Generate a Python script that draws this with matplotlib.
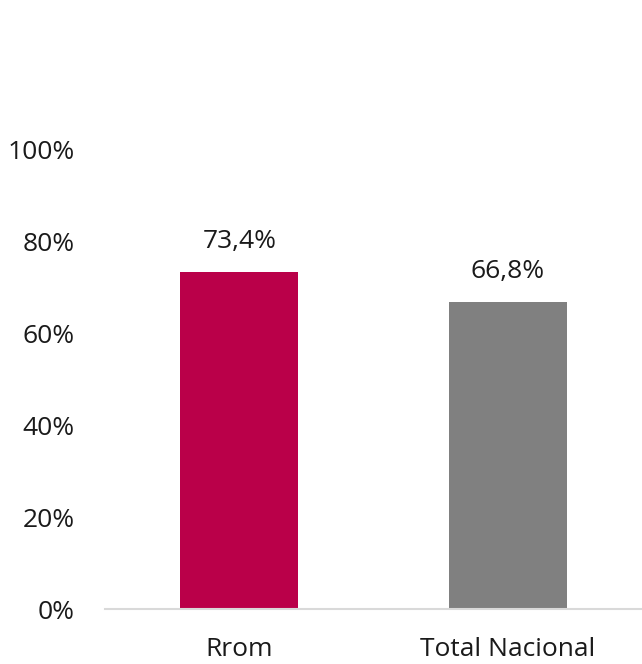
import matplotlib
matplotlib.use("Agg")
import matplotlib.pyplot as plt
from matplotlib.ticker import FuncFormatter

# --- Data ---
categories = ["Rrom", "Total Nacional"]
values = [0.734, 0.668]
value_labels = ["73,4%", "66,8%"]
bar_colors = ["#BA0049", "#808080"]

plt.rcParams['font.family'] = ['Open Sans', 'DejaVu Sans']

fig = plt.figure(figsize=(6.42, 6.64), dpi=100)
ax = fig.add_axes([0.1636, 0.0828, 0.8364, 0.6913])

x = range(len(categories))
bars = ax.bar(x, values, width=0.44, color=bar_colors)

# data labels above bars
for rect, lab in zip(bars, value_labels):
    ax.annotate(lab, (rect.get_x() + rect.get_width() / 2, rect.get_height()),
                xytext=(0, 13), textcoords="offset points",
                ha="center", va="bottom", fontsize=19, color="#1a1a1a")

ax.set_xlim(-0.5, 1.5)
ax.set_ylim(0, 1.0)
ax.set_yticks([0, 0.2, 0.4, 0.6, 0.8, 1.0])
ax.yaxis.set_major_formatter(FuncFormatter(lambda v, _: f"{v*100:.0f}%"))
ax.set_xticks(list(x))
ax.set_xticklabels(categories)

ax.tick_params(axis='y', length=0, pad=22, labelsize=19, labelcolor="#1a1a1a")
ax.tick_params(axis='x', length=0, pad=20, labelsize=19, labelcolor="#1a1a1a")

for side in ["top", "right", "left"]:
    ax.spines[side].set_visible(False)
ax.spines["bottom"].set_color("#D9D9D9")
ax.spines["bottom"].set_linewidth(1.5)

fig.savefig("out.png", dpi=100)
